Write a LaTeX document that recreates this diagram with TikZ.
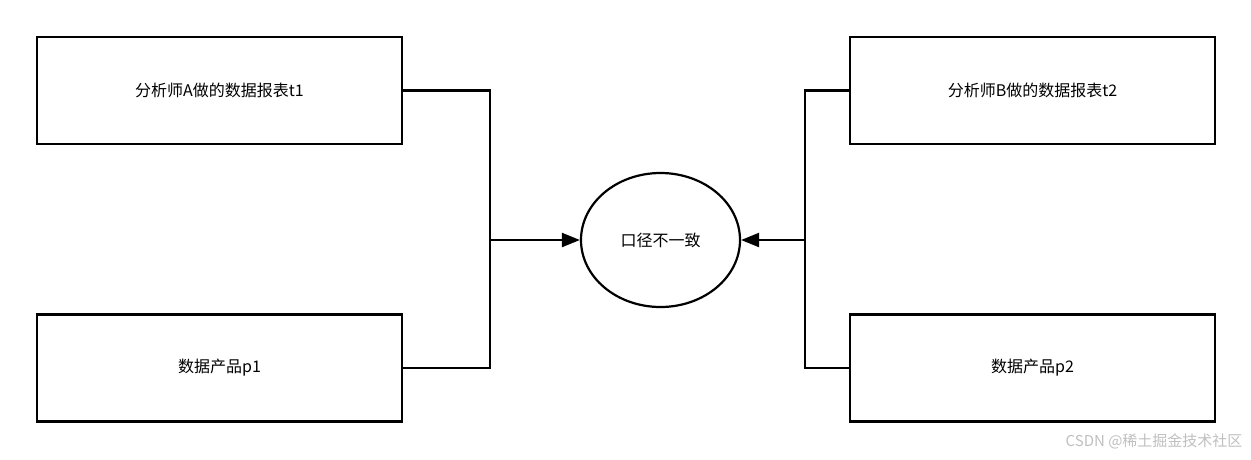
\documentclass[tikz,border=0pt]{standalone}
\usepackage{fontspec}
\setmainfont{Noto Sans CJK SC}
\usetikzlibrary{arrows.meta,shapes.geometric}
\begin{document}
\begin{tikzpicture}[x=1pt,y=-1pt,
  box/.style={draw,line width=2.2pt,minimum width=365pt,minimum height=107pt,font=\fontsize{16}{18}\selectfont,inner sep=0},
  conn/.style={line width=2.2pt},
  arr/.style={conn,-{Triangle[length=18pt,width=14pt]}}]
\useasboundingbox (0,0) rectangle (1251,459);
\node[box] (a) at (219.5,90.5) {分析师A做的数据报表t1};
\node[box] (p1) at (219.5,368) {数据产品p1};
\node[box] (b) at (1032.5,90.5) {分析师B做的数据报表t2};
\node[box] (p2) at (1032.5,368) {数据产品p2};
\node[draw,ellipse,inner sep=0,line width=2.2pt,minimum width=159pt,minimum height=134pt,font=\fontsize{16}{18}\selectfont] (e) at (660.5,240) {口径不一致};
\coordinate (jl) at (490,240);
\coordinate (jr) at (805,240);
\draw[conn] (a.east) -- (490,90.5) -- (490,368) -- (p1.east);
\draw[conn] (b.west) -- (805,90.5) -- (805,368) -- (p2.west);
\draw[arr] (jl) -- (e.west);
\draw[arr] (jr) -- (e.east);
\node[text=black!25,font=\fontsize{15}{17}\selectfont,anchor=east] (w) at (1246,441) {CSDN @稀土掘金技术社区};
\end{tikzpicture}
\end{document}
